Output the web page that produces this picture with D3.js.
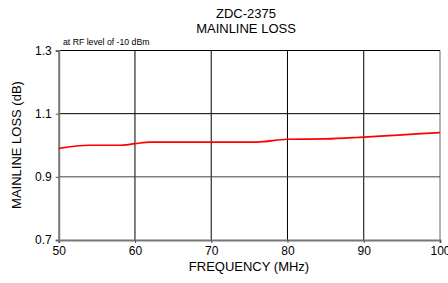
<!DOCTYPE html>
<html>
<head>
<meta charset="utf-8">
<script src="https://cdn.jsdelivr.net/npm/d3@7"></script>
<style>
  body { margin: 0; background: #fff; }
  text { font-family: "Liberation Sans", Arial, sans-serif; fill: #000; }
</style>
</head>
<body>
<svg id="chart" width="448" height="283"></svg>
<script>
var freq = [50, 54, 58, 60, 62, 66, 70, 76, 80, 85, 90, 95, 100];
var loss = [0.99, 1.0, 1.0, 1.005, 1.01, 1.01, 1.01, 1.01, 1.019, 1.02, 1.026, 1.033, 1.04];
var xTicks = [50, 60, 70, 80, 90, 100];
var yTicks = [0.7, 0.9, 1.1, 1.3];
var titleLines = ["ZDC-2375", "MAINLINE LOSS"];

var padLeft = 58.7, padRight = 440, padTop = 50.5, padBottom = 240;
var svg = d3.select("#chart");

var x = d3.scaleLinear().domain([50, 100]).range([padLeft, padRight]);
var y = d3.scaleLinear().domain([0.7, 1.3]).range([padBottom, padTop]);

// grid
var g = svg.append("g");
g.selectAll("line.vg").data(xTicks.slice(1)).enter().append("line")
    .attr("x1", d => x(d)).attr("x2", d => x(d))
    .attr("y1", padTop).attr("y2", padBottom)
    .style("stroke", d => d == 100 ? "#666" : "#000").style("stroke-width", 1);
g.selectAll("line.hg").data(yTicks.slice(1)).enter().append("line")
    .attr("x1", padLeft).attr("x2", padRight)
    .attr("y1", d => y(d)).attr("y2", d => y(d))
    .style("stroke", d => d == 0.9 ? "#444" : "#000").style("stroke-width", 1);

// axes
var xAxis = svg.append("g").attr("transform", "translate(0," + padBottom + ")")
    .call(d3.axisBottom(x).tickValues(xTicks).tickSize(3).tickPadding(3).tickFormat(d3.format("d")));
var yAxis = svg.append("g").attr("transform", "translate(" + padLeft + ",0)")
    .call(d3.axisLeft(y).tickValues(yTicks).tickSize(3).tickPadding(4).tickFormat(d3.format(".1f")));
[xAxis, yAxis].forEach(function(a) {
    a.select(".domain").style("stroke", "#777").style("stroke-width", 2);
    a.selectAll(".tick line").style("stroke", "#555");
    a.selectAll(".tick text").style("font-size", "12px").style("fill", "#000")
        .style("font-family", "'Liberation Sans', Arial, sans-serif");
});

// curve
var line = d3.line().x((d, i) => x(freq[i])).y(d => y(d)).curve(d3.curveMonotoneX);
svg.append("path").datum(loss).attr("d", line)
    .style("fill", "none").style("stroke", "#ff0000").style("stroke-width", 1.7);

// titles
svg.selectAll("text.title").data(titleLines).enter().append("text")
    .attr("x", 246).attr("y", (d, i) => 18 + i * 14.5)
    .attr("text-anchor", "middle").style("font-size", "13px").text(d => d);
svg.append("text").attr("x", 63).attr("y", 45).style("font-size", "8.7px")
    .text("at RF level of -10 dBm");
svg.append("text").attr("x", 249).attr("y", 271).attr("text-anchor", "middle")
    .style("font-size", "13px").text("FREQUENCY (MHz)");
svg.append("text").attr("transform", "translate(21,145) rotate(-90)")
    .attr("text-anchor", "middle").style("font-size", "13px").text("MAINLINE LOSS (dB)");
</script>
</body>
</html>
